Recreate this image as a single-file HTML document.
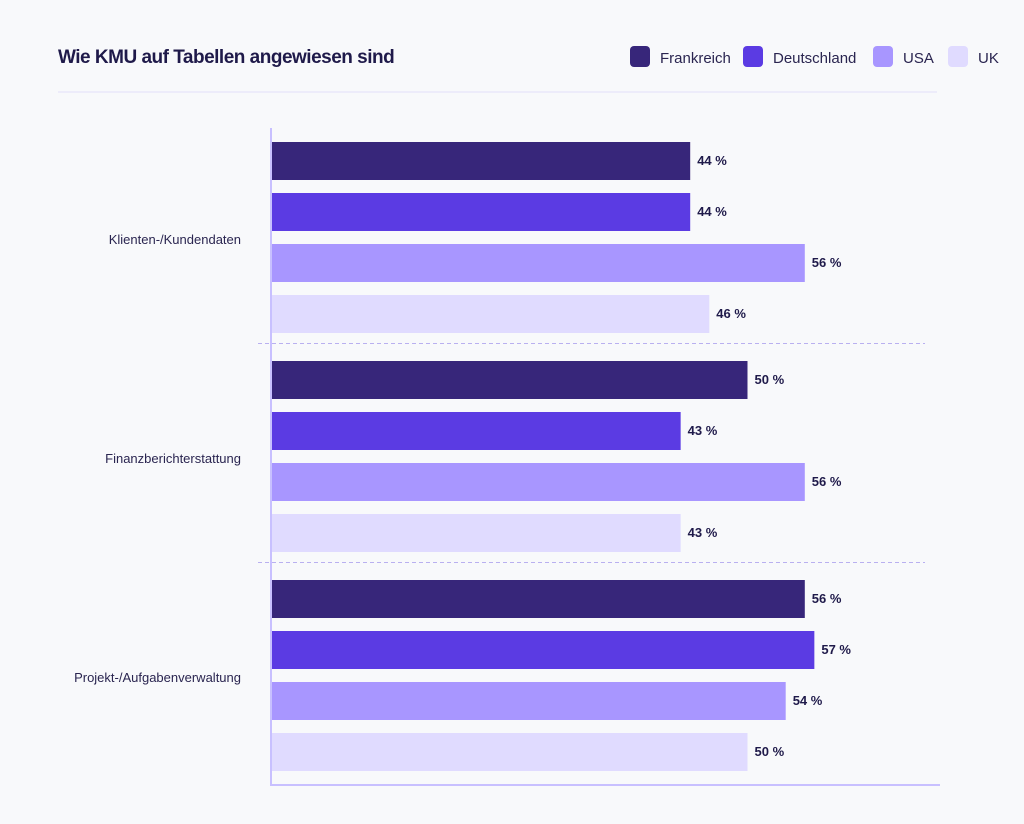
<!DOCTYPE html>
<html><head><meta charset="utf-8"><style>
body{margin:0;background:#f8f9fb;font-family:"Liberation Sans",sans-serif;}
#wrap{position:relative;width:1024px;height:824px;overflow:hidden;background:#f8f9fb}
</style></head><body>
<div id="wrap">
<svg id="chart" width="1024" height="824">
<text x="58" y="63" font-size="19" font-weight="bold" fill="#1f1a4a" letter-spacing="-0.5">Wie KMU auf Tabellen angewiesen sind</text>
<line x1="58" y1="92" x2="937" y2="92" stroke="#e2defa" stroke-width="1"/>
<g id="legend"></g>
<g id="bars"></g>
<line x1="271" y1="128" x2="271" y2="785" stroke="#c8c0ff" stroke-width="2"/>
<line x1="270" y1="785" x2="940" y2="785" stroke="#c8c0ff" stroke-width="2"/>
</svg>
</div>
<script>
const categories = ["Klienten-/Kundendaten", "Finanzberichterstattung", "Projekt-/Aufgabenverwaltung"];
const seriesNames = ["Frankreich", "Deutschland", "USA", "UK"];
const frankreich = [44, 50, 56];
const deutschland = [44, 43, 57];
const usa = [56, 56, 54];
const uk = [46, 43, 50];
const series = [frankreich, deutschland, usa, uk];
const colors = ["#37267a", "#5b3be3", "#a896ff", "#e0dbff"];
const NS = "http://www.w3.org/2000/svg";
const x0 = 270, pxPer = 9.55;
function xScale(v){ return x0 + v * pxPer; }
function groupTop(i){ return 142 + i * 219; }
function barTop(i, s){ return groupTop(i) + s * 51; }
const barH = 38;
const bars = document.getElementById('bars');
function mk(tag, attrs){ const e = document.createElementNS(NS, tag); for (const k in attrs) e.setAttribute(k, attrs[k]); return e; }
categories.forEach((c, i) => {
  const t = mk('text', {x: 241, y: groupTop(i) + 102, 'font-size': 13, fill: '#2a2550', 'text-anchor': 'end'});
  t.textContent = c;
  
  
  bars.appendChild(t);
  if (i > 0) {
    const l = mk('line', {x1: 258, x2: 925, y1: groupTop(i) - 17.5, y2: groupTop(i) - 17.5, stroke: '#b9b0f0', 'stroke-dasharray': '4 3'});
    
    
    bars.appendChild(l);
  }
  series.forEach((arr, s) => {
    const v = arr[i];
    const r = mk('rect', {x: x0, y: barTop(i, s), width: xScale(v) - x0, height: barH, fill: colors[s]});
    
    
    bars.appendChild(r);
    const lt = mk('text', {x: xScale(v) + 7, y: barTop(i, s) + 23, 'font-size': 13, 'font-weight': 'bold', fill: '#1f1a4a'});
    lt.textContent = v + ' %';
    
    
    bars.appendChild(lt);
  });
});
const legend = document.getElementById('legend');
const legX = [630, 743, 873, 948];
seriesNames.forEach((n, s) => {
  const g = mk('g', {});
  
  
  g.appendChild(mk('rect', {x: legX[s], y: 46, width: 20, height: 21, rx: 4, fill: colors[s]}));
  const t = mk('text', {x: legX[s] + 30, y: 63, 'font-size': 15, fill: '#2a2550'});
  t.textContent = n;
  g.appendChild(t);
  legend.appendChild(g);
});
</script>
</body></html>
